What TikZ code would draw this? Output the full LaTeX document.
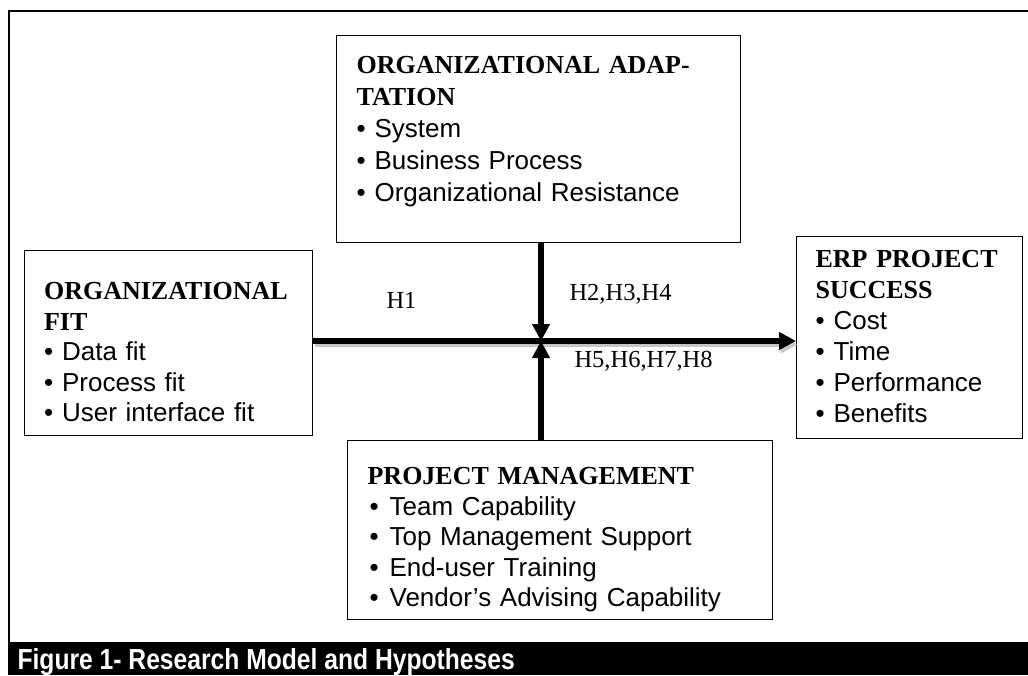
\documentclass[tikz,border=0pt]{standalone}
\usepackage{fontspec}
\setmainfont{Liberation Serif}
\setsansfont{Liberation Sans}
\newfontfamily\capfont[FakeStretch=0.85]{Liberation Sans}
\usetikzlibrary{arrows.meta}
\newcommand{\itm}{\makebox[18pt][l]{\textbullet}}
\newcommand{\pmitm}{\makebox[22pt][l]{\hspace{2pt}\textbullet}}
\begin{document}
\begin{tikzpicture}[x=1pt,y=-1pt,
box/.style={draw,line width=1.2pt,anchor=north west,align=left,inner xsep=20pt,inner ysep=0pt,font=\fontsize{26}{30.5}\selectfont},
flow/.style={line width=5.5pt,-{Triangle[length=17pt,width=17pt]}},
hyp/.style={anchor=base west,font=\fontsize{24.5}{28}\selectfont}]
\useasboundingbox (0,0) rectangle (1028,675);
\draw[line width=2.5pt] (9,642)--(9,11)--(1028,11);
\fill (8,642) rectangle (1028,675);
\node[anchor=base west,text=white,font=\capfont\bfseries\fontsize{29}{32}\selectfont] (cap) at (14,669) {Figure 1- Research Model and Hypotheses};
\node[box,font=\fontsize{26}{32}\selectfont,text width=364pt,text height=38pt,text depth=169pt] (adapt) at (336,35) {\textbf{ORGANIZATIONAL ADAP-}\\\textbf{TATION}\\\textsf{\itm System}\\\textsf{\itm Business Process}\\\textsf{\itm Organizational Resistance}};
\node[box,text width=249pt,inner xsep=19.5pt,text height=49pt,text depth=136pt] (fit) at (24,250) {\textbf{ORGANIZATIONAL}\\\textbf{FIT}\\\textsf{\itm Data fit}\\\textsf{\itm Process fit}\\\textsf{\itm User interface fit}};
\node[box,font=\fontsize{26}{31}\selectfont,text width=188pt,inner xsep=19pt,text height=31pt,text depth=171pt] (erp) at (796,236) {\textbf{ERP PROJECT}\\\textbf{SUCCESS}\\\textsf{\itm Cost}\\\textsf{\itm Time}\\\textsf{\itm Performance}\\\textsf{\itm Benefits}};
\node[box,text width=385pt,text height=44pt,text depth=135pt] (pm) at (347,440) {\textbf{PROJECT MANAGEMENT}\\\textsf{\pmitm Team Capability}\\\textsf{\pmitm Top Management Support}\\\textsf{\pmitm End-user Training}\\\textsf{\pmitm Vendor’s Advising Capability}};
\coordinate (mid) at (541,341);
%\draw[red] (mid) circle (3);
\draw[flow,gray!45,transform canvas={xshift=1.5pt,yshift=-3.5pt}] (fit.east |- mid)--(erp.west |- mid);
\draw[flow] (fit.east |- mid)--(erp.west |- mid);
\draw[flow] (mid |- adapt.south)--(mid);
\draw[flow] (mid |- pm.north)--(mid);
\node[hyp] (h1) at (383,308) {H1};
\node[hyp] (h234) at (566,300) {H2,H3,H4};
\node[hyp] (h5678) at (571,367) {H5,H6,H7,H8};
\end{tikzpicture}
\end{document}
